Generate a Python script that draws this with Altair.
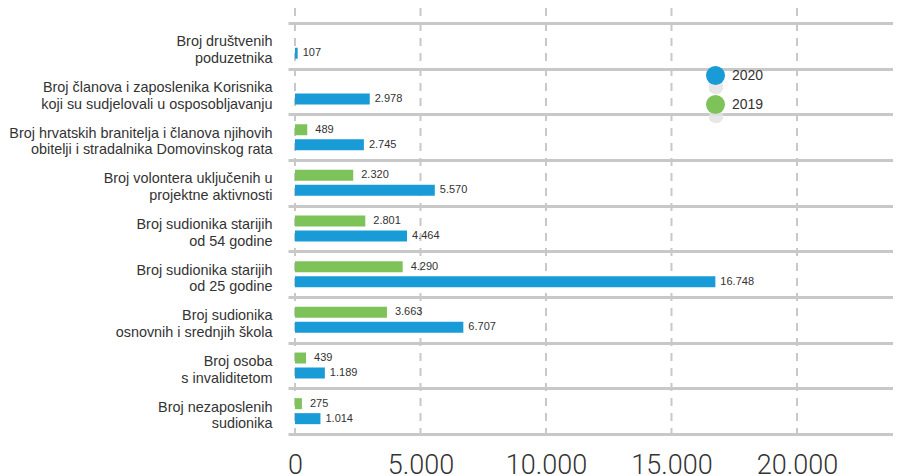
import altair as alt
import pandas as pd

categories = [
    "Broj društvenih\npoduzetnika",
    "Broj članova i zaposlenika Korisnika\nkoji su sudjelovali u osposobljavanju",
    "Broj hrvatskih branitelja i članova njihovih\nobitelji i stradalnika Domovinskog rata",
    "Broj volontera uključenih u\nprojektne aktivnosti",
    "Broj sudionika starijih\nod 54 godine",
    "Broj sudionika starijih\nod 25 godine",
    "Broj sudionika\nosnovnih i srednjih škola",
    "Broj osoba \ns invaliditetom",
    "Broj nezaposlenih\nsudionika",
]
values_2019 = [None, None, 489, 2320, 2801, 4290, 3663, 439, 275]
values_2020 = [107, 2978, 2745, 5570, 4464, 16748, 6707, 1189, 1014]
years = ["2019", "2020"]
legend_order = ["2020", "2019"]
colors = ["#189bd7", "#7ec35a"]
x_ticks = [0, 5000, 10000, 15000, 20000]

rows = []
for c, v19, v20 in zip(categories, values_2019, values_2020):
    if v19 is not None:
        rows.append({"cat": c, "year": "2019", "value": v19})
    rows.append({"cat": c, "year": "2020", "value": v20})
df = pd.DataFrame(rows)
ticks_df = pd.DataFrame({"value": x_ticks})

W, H = 605, 411

x_enc = alt.X(
    "value:Q",
    scale=alt.Scale(domain=[-279, 23825], nice=False, zero=False),
    axis=alt.Axis(
        values=x_ticks, grid=False, ticks=False, domain=False, title=None,
        labelFontSize=27, labelColor="#333333", labelPadding=18,
        labelFlush=False, labelFont="Roboto", labelFontWeight=300,
        labelExpr="replace(format(datum.value, ','), ',', '.')",
    ),
)
y_enc = alt.Y(
    "cat:N",
    sort=categories,
    scale=alt.Scale(domain=categories, paddingInner=0, paddingOuter=0),
    axis=alt.Axis(
        title=None, grid=True, tickBand="extent", gridColor="#c8c8c8",
        gridWidth=3, ticks=False, domain=False, labelFontSize=14.4,
        labelColor="#333333", labelLineHeight=16.5, labelPadding=16,
        labelOffset=-4, labelLimit=400,
        labelExpr="split(datum.label, '\\n')",
    ),
)
yoff_enc = alt.YOffset(
    "year:N",
    scale=alt.Scale(domain=years, paddingInner=0.267, paddingOuter=0.656),
)

base = alt.Chart(df).transform_calculate(
    label="replace(format(datum.value, ','), ',', '.')"
)

rules = alt.Chart(ticks_df).mark_rule(
    strokeDash=[8, 7], color="#c8c8c8", strokeWidth=2
).encode(x=x_enc, y=alt.value(-15), y2=alt.value(H + 8))

bars = base.mark_bar().encode(
    x=x_enc,
    x2=alt.datum(0),
    y=y_enc,
    yOffset=yoff_enc,
    color=alt.Color(
        "year:N",
        scale=alt.Scale(domain=legend_order, range=colors),
        legend=alt.Legend(
            title=None, orient="none", legendX=418, legendY=43,
            symbolType="circle", symbolSize=361, symbolStrokeWidth=0,
            labelFontSize=14, labelColor="#333333", labelOffset=7,
            rowPadding=10, padding=0,
        ),
    ),
)

# very faint reflections under the legend symbols
refl_a = alt.Chart(df).mark_circle(color="#e4e4e4", opacity=0.12, size=200).encode(
    x=alt.value(428), y=alt.value(64)
)
refl_b = alt.Chart(df).mark_circle(color="#e4e4e4", opacity=0.12, size=200).encode(
    x=alt.value(428), y=alt.value(93)
)

text19 = base.transform_filter("datum.year == '2019'").mark_text(
    align="left", baseline="middle", dx=8, fontSize=11, color="#333333"
).encode(x=x_enc, y=y_enc, yOffset=yoff_enc, text="label:N")

text20 = base.transform_filter("datum.year == '2020'").mark_text(
    align="left", baseline="middle", dx=5, fontSize=11, color="#333333"
).encode(x=x_enc, y=y_enc, yOffset=yoff_enc, text="label:N")

chart = alt.layer(rules, refl_a, refl_b, bars, text19, text20).properties(
    width=W, height=H,
    autosize=alt.AutoSizeParams(type="none"),
    padding={"left": 280, "top": 15, "right": 0, "bottom": 42},
).configure(font="Liberation Sans", background="white").configure_view(stroke=None)

chart.save("out.html", embed_options={"renderer": "svg", "actions": False})
